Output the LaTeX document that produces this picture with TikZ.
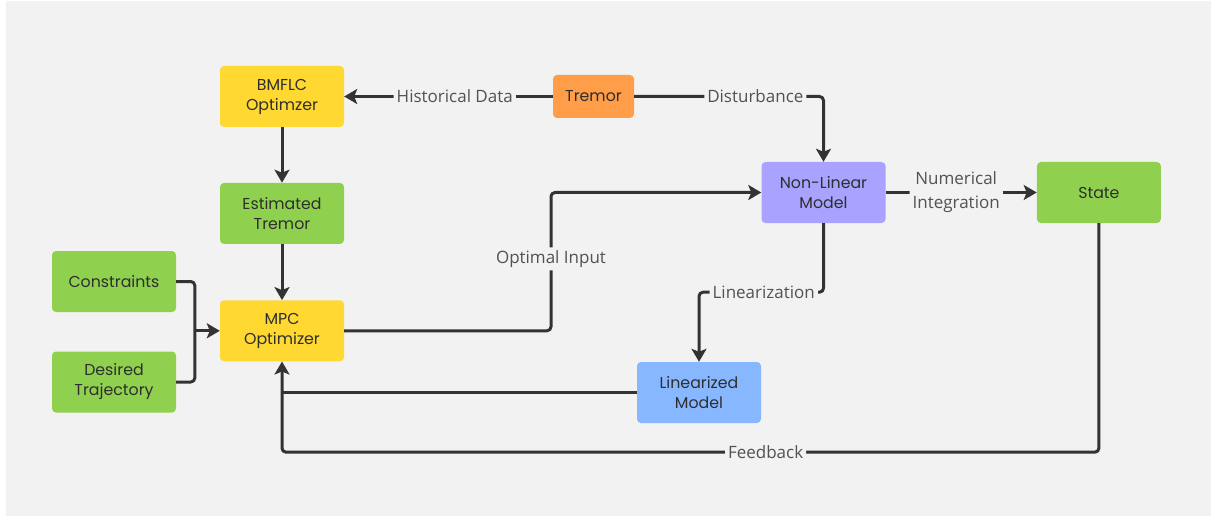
\documentclass[tikz,border=0pt]{standalone}
\usepackage{fontspec}
\setmainfont{Poppins}
\newfontfamily\edgefont{Open Sans}
\usetikzlibrary{arrows.meta,positioning,calc}

\definecolor{canvas}{HTML}{F2F2F2}
\definecolor{ink}{HTML}{333333}
\definecolor{boxyellow}{HTML}{FFD932}
\definecolor{boxgreen}{HTML}{8FD14F}
\definecolor{boxorange}{HTML}{FF9D48}
\definecolor{boxpurple}{HTML}{A9A2FF}
\definecolor{boxblue}{HTML}{87B8FF}

\begin{document}
\begin{tikzpicture}[
  x=1pt,y=-1pt,
  block/.style={rounded corners=4pt,minimum width=124pt,minimum height=61pt,inner sep=0pt,
    align=center,text=ink!90!black,font=\fontsize{15.8}{20}\selectfont},
  wire/.style={draw=ink,line width=3pt,rounded corners=4pt,line join=round},
  flow/.style={wire,-{Stealth[length=13pt,width=15pt,inset=3pt]}},
  tag/.style={fill=canvas,inner sep=3pt,align=center,text=ink!85,
    font=\edgefont\fontsize{17}{24}\selectfont}
]
  \useasboundingbox (0,0) rectangle (1211,516);
  \fill[canvas] (6,1) rectangle (1211,516);

  % controller column
  \node[block,fill=boxyellow] (bmflc) at (282,96.5) {BMFLC\\Optimzer};
  \node[block,fill=boxgreen,below=55.5pt of bmflc] (esttremor) {Estimated\\Tremor};
  \node[block,fill=boxyellow,below=56pt of esttremor] (mpc) {MPC\\Optimizer};
  \node[block,fill=boxgreen] (constraints) at (114,281.5) {Constraints};
  \node[block,fill=boxgreen] (trajectory) at (114,382) {Desired\\Trajectory};

  % plant side
  \node[block,fill=boxorange,minimum width=81pt,minimum height=43pt] (tremor) at (593.5,96.5) {Tremor};
  \node[block,fill=boxpurple] (nonlin) at (823.5,192.5) {Non-Linear\\Model};
  \node[block,fill=boxgreen,right=151pt of nonlin] (state) {State};
  \node[block,fill=boxblue] (linmodel) at (699,392.5) {Linearized\\Model};

  \coordinate[left=25pt of mpc.west] (merge);
  \coordinate (relay) at (551,0);

  \draw[flow] (tremor) -- node[tag,pos=.47]{Historical Data} (bmflc);
  \draw[flow] (tremor.east) -| node[tag,pos=.32]{Disturbance} (nonlin.north);
  \draw[flow] (bmflc) -- (esttremor);
  \draw[flow] (esttremor) -- (mpc);

  \draw[wire] (constraints.east) -| (merge);
  \draw[wire] (trajectory.east) -| (merge);
  \draw[flow] (merge) -- (mpc.west);

  \draw[flow] (mpc.east) -- (mpc.east -| relay) |- node[tag,pos=.26]{Optimal Input} (nonlin.west);
  \draw[flow] (nonlin) -- node[tag,xshift=-5pt]{Numerical\\Integration} (state);
  \draw[flow] (nonlin.south) -- ++(0,69) -| node[tag,pos=.24]{Linearization} (linmodel.north);

  % feedback paths into the MPC
  \draw[wire] (linmodel.west) -- (linmodel.west -| mpc.south);
  \draw[flow] (state.south) -- ++(0,229) -| node[tag,pos=.204]{Feedback} (mpc.south);
\end{tikzpicture}
\end{document}
